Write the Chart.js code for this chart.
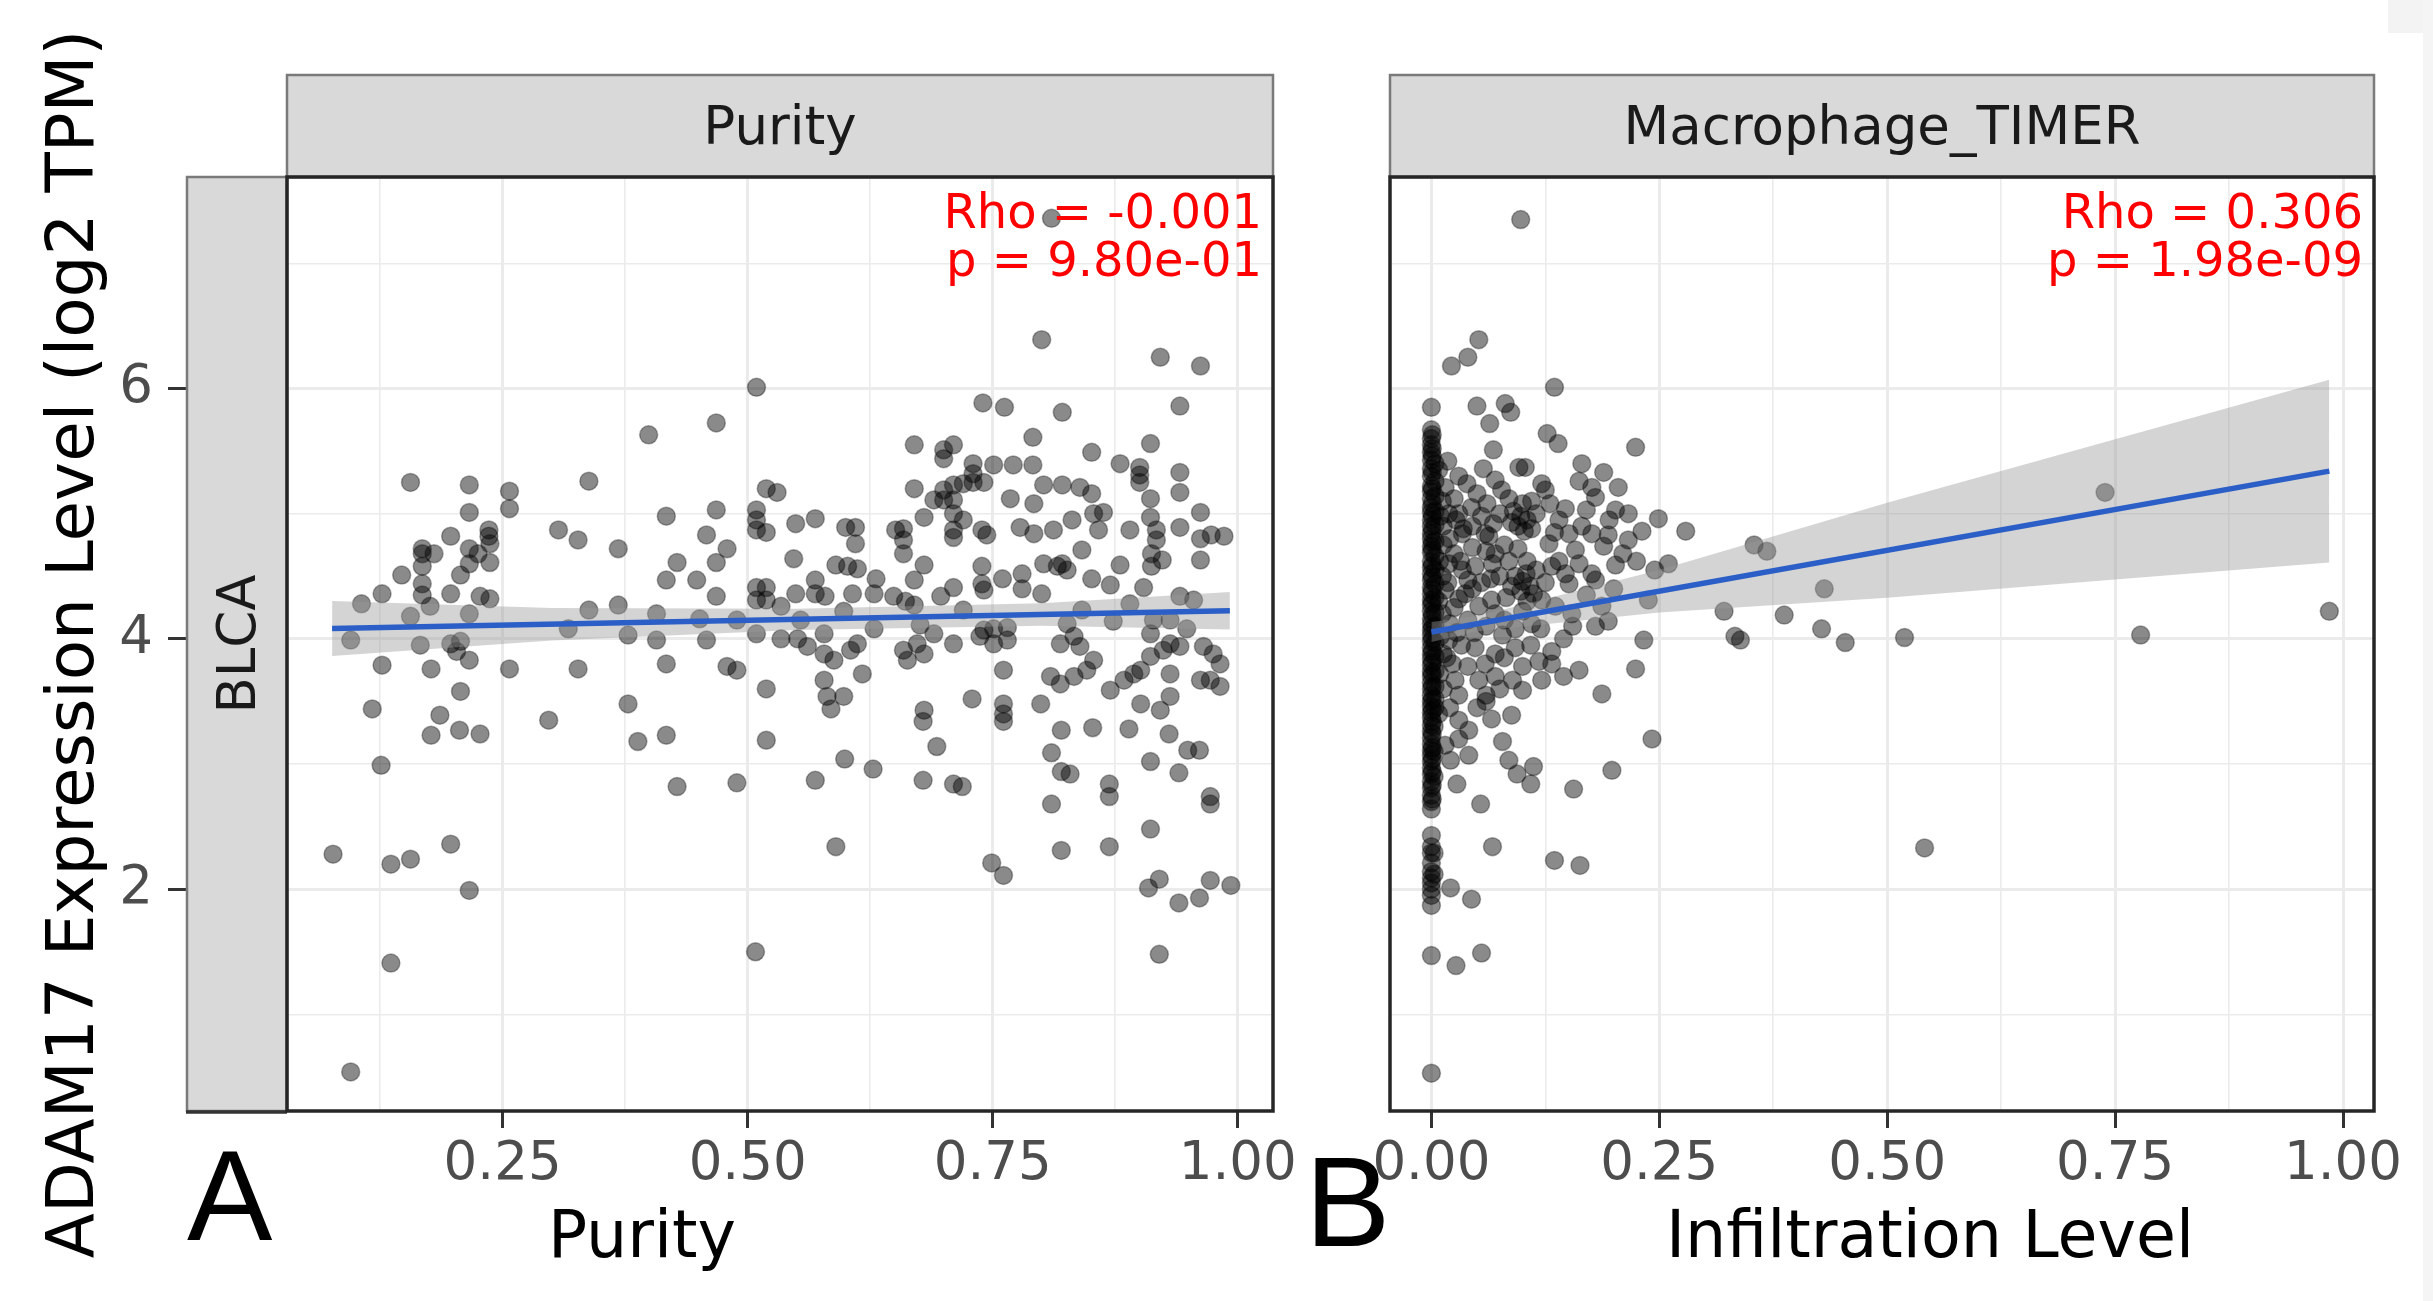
<!DOCTYPE html>
<html>
<head>
<meta charset="utf-8">
<script src="https://cdn.jsdelivr.net/npm/chart.js"></script>
<style>
html,body{margin:0;padding:0;background:#ffffff;width:2433px;height:1301px;overflow:hidden}
canvas{position:absolute;left:0;top:0}
#edgeTop{position:absolute;left:2388px;top:0;width:45px;height:33px;background:#f3f3f3}
#edgeRight{position:absolute;left:2423px;top:0;width:10px;height:1301px;background:#f5f5f5}
</style>
</head>
<body>
<div id="edgeTop"></div><div id="edgeRight"></div>
<canvas id="chartA" width="2433" height="1301"></canvas>
<canvas id="chartB" width="2433" height="1301"></canvas>
<script>
// ---------------- data: panel A (Purity) ----------------
const purityX = [
0.509,0.468,0.399,0.156,0.216,0.338,0.257,0.257,0.216,0.417,
0.468,0.509,0.519,0.530,0.509,0.509,0.519,0.197,0.236,0.236,
0.307,0.327,0.368,0.168,0.168,0.180,0.216,0.225,0.237,0.237,
0.216,0.207,0.147,0.168,0.168,0.428,0.458,0.479,0.468,0.417,
0.448,0.127,0.197,0.168,0.106,0.176,0.156,0.216,0.227,0.237,
0.338,0.368,0.407,0.468,0.509,0.519,0.509,0.519,0.451,0.489,
0.317,0.095,0.166,0.197,0.207,0.203,0.216,0.378,0.407,0.458,
0.509,0.127,0.177,0.257,0.327,0.417,0.479,0.489,0.207,0.519,
0.378,0.117,0.186,0.297,
0.177,0.206,0.227,0.126,0.388,0.417,0.428,0.489,0.519,0.077,
0.136,0.156,0.197,0.216,0.136,0.095,0.508,
0.800,0.921,0.962,0.740,0.762,0.821,0.941,0.791,0.670,0.700,
0.710,0.700,0.911,0.851,0.730,0.730,0.751,0.771,0.791,0.880,
0.900,0.900,0.900,0.941,0.941,0.670,0.690,0.700,0.710,0.720,
0.730,0.741,0.700,0.710,0.680,0.710,0.720,0.768,0.792,0.802,
0.821,0.839,0.851,0.911,0.962,0.853,0.863,0.911,0.549,0.569,
0.600,0.610,0.610,0.651,0.659,0.659,0.659,0.710,0.710,0.739,
0.744,0.778,0.792,0.812,0.831,0.858,0.890,0.917,0.917,0.941,
0.962,0.973,0.986,0.962,0.547,0.590,0.602,0.612,0.631,0.680,
0.670,0.739,0.739,0.760,0.780,0.780,0.800,0.802,0.816,0.826,
0.821,0.841,0.851,0.870,0.880,0.912,0.912,0.923,0.904,0.549,
0.569,0.569,0.579,0.607,0.629,0.649,0.661,0.670,0.697,0.710,
0.720,0.741,0.841,0.890,0.941,0.955,0.534,0.554,0.598,0.629,
0.578,0.676,0.690,0.710,0.741,0.751,0.765,0.826,0.833,0.839,
0.819,0.873,0.914,0.931,0.948,0.911,0.534,0.551,0.561,0.578,
0.588,0.605,0.612,0.617,0.578,0.581,0.598,0.585,0.659,0.663,
0.673,0.680,0.737,0.751,0.765,0.761,0.809,0.819,0.833,0.846,
0.853,0.911,0.924,0.931,0.870,0.884,0.894,0.901,0.931,0.941,
0.965,0.975,0.982,0.962,0.972,0.982,0.729,0.799,0.680,0.761,
0.761,0.921,0.931,0.901,
0.590,0.569,0.599,0.628,0.679,0.693,0.710,0.719,0.749,0.761,
0.810,0.820,0.810,0.820,0.829,0.820,0.852,0.869,0.869,0.869,
0.889,0.911,0.909,0.920,0.920,0.911,0.930,0.940,0.940,0.961,
0.972,0.993,0.949,0.961,0.972,0.972,0.679,0.761,0.810
];
const purityY = [
6.01,5.725,5.63,5.25,5.23,5.26,5.18,5.04,5.01,4.98,
5.03,5.03,5.20,5.17,4.95,4.87,4.85,4.82,4.87,4.82,
4.87,4.79,4.72,4.72,4.68,4.68,4.72,4.68,4.76,4.61,
4.60,4.51,4.51,4.58,4.44,4.61,4.83,4.72,4.61,4.47,
4.47,4.36,4.36,4.35,4.28,4.26,4.18,4.20,4.34,4.32,
4.23,4.27,4.20,4.34,4.41,4.41,4.31,4.31,4.16,4.15,
4.08,3.99,3.95,3.96,3.98,3.90,3.83,4.03,3.99,3.99,
4.04,3.79,3.76,3.76,3.76,3.80,3.78,3.75,3.58,3.60,
3.48,3.44,3.39,3.35,
3.23,3.27,3.24,2.99,3.18,3.23,2.82,2.85,3.19,2.28,
2.20,2.24,2.36,1.99,1.41,0.54,1.50,
6.39,6.25,6.18,5.885,5.85,5.81,5.86,5.61,5.55,5.51,
5.55,5.44,5.56,5.49,5.40,5.32,5.39,5.39,5.39,5.40,
5.37,5.31,5.25,5.33,5.17,5.20,5.11,5.19,5.23,5.24,
5.25,5.25,5.11,5.11,4.97,5.00,4.95,5.12,5.08,5.23,
5.23,5.21,5.16,5.12,5.01,5.00,5.01,4.97,4.92,4.96,
4.89,4.89,4.76,4.87,4.88,4.79,4.68,4.87,4.81,4.87,
4.83,4.89,4.84,4.87,4.95,4.87,4.87,4.87,4.79,4.89,
4.80,4.83,4.82,4.63,4.64,4.59,4.58,4.56,4.48,4.59,
4.47,4.58,4.44,4.48,4.52,4.40,4.36,4.60,4.58,4.55,
4.60,4.71,4.48,4.43,4.59,4.68,4.58,4.63,4.41,4.36,
4.47,4.36,4.34,4.36,4.36,4.34,4.30,4.27,4.34,4.41,
4.23,4.39,4.23,4.28,4.34,4.31,4.26,4.15,4.22,4.08,
4.04,4.11,4.04,3.96,4.07,4.08,4.09,4.12,4.02,3.94,
3.96,4.14,4.15,4.15,4.08,4.04,4.00,4.00,3.94,3.88,
3.83,3.91,3.96,3.72,3.67,3.54,3.54,3.44,3.91,3.83,
3.96,3.88,4.02,3.96,3.99,3.75,3.70,3.64,3.70,3.75,
3.83,3.86,3.91,3.96,3.59,3.67,3.72,3.75,3.72,3.94,
3.94,3.88,3.80,3.67,3.67,3.62,3.52,3.48,3.43,3.48,
3.40,3.43,3.54,3.48,
2.34,2.87,3.04,2.96,2.87,3.14,2.84,2.82,2.21,2.11,
2.68,3.27,3.09,2.94,2.92,2.31,3.29,2.34,2.84,2.74,
3.28,2.48,2.01,2.08,1.48,3.02,3.24,2.93,1.89,1.93,
2.07,2.03,3.11,3.11,2.74,2.68,3.34,3.34,7.36
];
const purityFitX = [0.076, 0.992];
const purityFitY = [4.083, 4.224];
const purityBandX = [0.076, 0.30, 0.55, 0.80, 0.992];
const purityBandHi = [4.303, 4.247, 4.241, 4.285, 4.374];
const purityBandLo = [3.863, 3.987, 4.071, 4.105, 4.074];

// ---------------- data: panel B (Macrophage_TIMER) ----------------
const macroX = [
0,0,0,0,0,0,0,0,0,0,
0,0,0,0,0,0,0,0,0,0,
0,0,0,0,0,0,0,0,0,0,
0,0,0,0,0,0,0,0,0,0,
0,0,0,0,0,0,0,0,0,0,
0,0,0,0,0,0,0,0,0,0,
0,0,0,0,0,0,0,0,0,0,
0,0,
0.004,0.004,0.004,0.004,0.004,0.004,0.004,0.004,0.004,0.004,
0.004,0.004,0.004,0.004,0.004,0.004,0.004,0.004,
0.003,0.003,0.003,0.003,0.003,
0.001,0.001,0.001,0.001,0.001,0.001,0.001,0.001,0.001,0.001,
0.001,0.001,0.001,0.001,0.001,0.001,0.001,0.001,0.001,0.001,
0.001,0.001,0.001,0.001,0.001,0.001,0.001,0.001,0.001,0.001,
0.052,0.040,0.022,0.135,0.050,0.081,0.087,0.064,0.127,0.139,
0.224,0.068,0.057,0.070,0.077,0.096,0.103,0.121,0.125,0.165,
0.162,0.189,0.176,0.180,0.205,0.147,0.202,0.216,0.249,0.279,
0.231,0.216,0.194,0.015,0.039,0.050,0.019,0.055,0.034,0.059,
0.090,0.098,0.105,0.095,0.110,0.102,0.088,0.115,0.129,0.151,
0.165,0.176,0.158,0.189,0.202,0.260,0.354,0.019,0.034,0.048,
0.067,0.070,0.092,0.100,0.108,0.098,0.088,0.112,0.104,0.132,
0.147,0.162,0.176,0.180,0.151,0.015,0.037,0.052,0.066,0.070,
0.121,0.136,0.154,0.187,0.238,0.321,0.333,0.339,0.180,0.194,
0.233,0.145,0.224,0.162,0.132,0.132,0.121,0.187,0.078,0.092,
0.109,0.070,0.059,0.048,0.052,0.089,0.100,0.019,0.023,0.026,
0.012,0.025,0.030,0.044,0.061,0.075,0.013,0.027,0.045,0.060,
0.080,0.013,0.025,0.040,0.055,0.075,0.082,0.012,0.025,0.040,
0.060,0.080,0.012,0.028,0.040,0.070,0.013,0.030,0.060,0.080,
0.110,0.100,0.120,0.013,0.035,0.068,0.085,0.110,0.130,0.140,
0.135,0.170,0.195,0.210,0.225,0.245,0.155,0.170,0.200,0.118,
0.145,0.100,0.075,0.242,0.198,0.156,0.112,0.109,0.094,0.085,
0.078,0.066,0.088,0.041,0.041,0.021,0.028,0.054,0.067,0.135,
0.163,0.021,0.044,0.027,0.055,0.020,0.030,0.050,0.015,0.030,
0.060,0.098,0.368,0.431,0.387,0.428,0.454,0.519,0.739,0.778,
0.985,0.541,
0.008,0.010,0.009,0.008,0.010,0.009,0.008,0.018,0.020,0.018,
0.020,0.017,0.030,0.032,0.030,0.033,0.045,0.045,0.047,0.065,
0.063,0.085,0.095,0.105,0.115,0.100,0.092,0.105,0.125,0.140
];
const macroY = [
5.85,5.67,5.60,5.55,5.49,5.43,5.36,5.30,5.22,5.18,
5.12,5.05,5.01,4.95,4.90,4.84,4.80,4.74,4.69,4.62,
4.57,4.52,4.47,4.41,4.36,4.31,4.27,4.22,4.16,4.12,
4.07,4.03,3.98,3.93,3.88,3.84,3.79,3.74,3.70,3.65,
3.60,3.55,3.50,3.46,3.41,3.37,3.31,3.26,3.21,3.16,
3.11,3.07,3.02,2.97,2.92,2.86,2.81,2.75,2.70,2.64,
2.43,2.34,2.29,2.21,2.14,2.09,2.05,2.00,1.95,1.87,
1.47,0.53,
5.40,5.26,5.14,5.02,4.91,4.78,4.66,4.55,4.44,4.33,
4.21,4.10,3.97,3.86,3.74,3.62,3.52,3.45,
3.30,3.10,2.90,2.29,2.12,
5.63,5.52,5.46,5.33,5.20,5.08,4.98,4.87,4.77,4.71,
4.59,4.49,4.39,4.29,4.19,4.09,4.00,3.90,3.81,3.72,
3.62,3.52,3.43,3.34,3.24,3.13,3.04,2.94,2.83,2.72,
6.39,6.25,6.18,6.01,5.86,5.88,5.81,5.72,5.64,5.56,
5.53,5.51,5.36,5.27,5.19,5.37,5.37,5.24,5.19,5.40,
5.26,5.33,5.21,5.13,5.21,5.04,5.03,5.00,4.96,4.86,
4.86,4.79,4.83,5.21,5.24,5.16,5.00,4.98,4.84,4.84,
5.02,4.98,4.95,4.90,4.88,4.86,4.93,5.00,4.76,4.84,
4.90,4.84,4.71,4.74,4.59,4.60,4.75,4.60,4.55,4.58,
4.60,4.68,4.50,4.46,4.42,4.38,4.42,4.36,4.52,4.58,
4.52,4.60,4.52,4.47,4.44,4.39,4.36,4.26,4.31,4.20,
4.31,4.26,4.20,4.26,4.31,4.22,4.02,3.99,4.10,4.14,
3.99,4.00,3.76,3.75,3.90,3.80,3.67,3.56,4.03,3.93,
3.95,3.88,3.80,3.93,3.67,3.67,3.59,3.99,3.80,3.67,
5.10,5.12,5.30,5.05,5.08,5.00,4.90,4.95,4.73,4.70,
4.75,4.75,4.68,4.47,4.45,4.50,4.33,4.50,4.25,4.15,
4.10,4.15,4.20,4.05,3.78,3.70,3.88,3.55,3.55,3.85,
4.12,4.22,4.08,3.60,4.88,4.92,5.12,5.10,5.08,4.95,
4.85,5.03,4.95,4.68,4.62,4.55,4.10,4.35,4.40,3.82,
3.70,3.78,3.60,3.20,2.95,2.80,2.98,2.84,2.92,3.03,
3.18,3.36,3.39,3.27,3.07,3.03,2.84,2.68,2.34,2.23,
2.19,2.01,1.92,1.39,1.49,3.45,3.35,3.45,3.15,3.20,
3.50,7.35,4.70,4.40,4.19,4.08,3.97,4.01,5.17,4.03,
4.22,2.33,
5.35,4.98,4.62,4.30,4.02,3.72,3.40,5.42,4.80,4.45,
4.12,3.85,5.00,4.62,4.32,3.95,4.90,4.40,4.05,4.48,
4.82,4.62,4.72,4.62,4.55,5.08,4.08,4.30,4.45,4.62
];
const macroFitX = [0, 0.985];
const macroFitY = [4.055, 5.340];
const macroBandX = [0, 0.05, 0.25, 0.50, 0.75, 0.985];
const macroBandHi = [4.135, 4.180, 4.551, 5.088, 5.594, 6.070];
const macroBandLo = [3.975, 4.060, 4.211, 4.328, 4.474, 4.610];

// ---------------- ticks / labels ----------------
const yMajor = [2, 4, 6];
const yMajorLabels = ['2', '4', '6'];
const yMinor = [1, 3, 5, 7];
const xMajorA = [0.25, 0.5, 0.75, 1.0];
const xMajorLabelsA = ['0.25', '0.50', '0.75', '1.00'];
const xMajorB = [0, 0.25, 0.5, 0.75, 1.0];
const xMajorLabelsB = ['0.00', '0.25', '0.50', '0.75', '1.00'];
const xMinor = [0.125, 0.375, 0.625, 0.875];

const yTitle = 'ADAM17 Expression Level (log2 TPM)';
const stripRow = 'BLCA';

// ---------------- styling ----------------
const FONT = "'DejaVu Sans', 'Liberation Sans', sans-serif";
const W = 2433, H = 1301;
const PANEL_TOP = 177, PANEL_BOTTOM = 1111, STRIP_TOP = 75;
const PANEL_A = {left: 287, right: 1273};
const PANEL_B = {left: 1390, right: 2374};
const POINT_FILL = 'rgba(0,0,0,0.46)';
const POINT_EDGE = 'rgba(0,0,0,0.32)';
const FIT_COLOR = '#2B5FC7';
const BAND_COLOR = 'rgba(153,153,153,0.42)';

const pairs = (xs, ys) => xs.map((x, i) => ({x: x, y: ys[i]}));

function makeDatasets(px, py, fx, fy, bx, bhi, blo) {
  return [
    {label: 'fit', data: pairs(fx, fy), showLine: true, borderColor: FIT_COLOR, borderWidth: 5.5,
     pointRadius: 0, fill: false, order: 1},
    {label: 'ci-upper', data: pairs(bx, bhi), showLine: true, borderColor: 'rgba(0,0,0,0)', borderWidth: 0.01,
     pointRadius: 0, fill: '+1', backgroundColor: BAND_COLOR, order: 2},
    {label: 'ci-lower', data: pairs(bx, blo), showLine: true, borderColor: 'rgba(0,0,0,0)', borderWidth: 0.01,
     pointRadius: 0, fill: false, order: 2},
    {label: 'samples', data: pairs(px, py), showLine: false, pointRadius: 9, pointBorderWidth: 1.5,
     backgroundColor: POINT_FILL, borderColor: POINT_EDGE, pointBackgroundColor: POINT_FILL,
     pointBorderColor: POINT_EDGE, order: 3}
  ];
}

function xScale(min, max, majors, labels) {
  const all = majors.concat(xMinor).sort((a, b) => a - b);
  const isMajor = c => c.tick && majors.indexOf(c.tick.value) >= 0;
  return {
    type: 'linear', position: 'bottom', min: min, max: max, bounds: 'data',
    afterBuildTicks: s => { s.ticks = all.map(v => ({value: v})); },
    afterFit: s => { s.height = H - PANEL_BOTTOM; },
    ticks: {
      autoSkip: false, maxRotation: 0, minRotation: 0, padding: 5, color: '#4D4D4D',
      font: {family: FONT, size: 53},
      callback: v => { const i = majors.indexOf(v); return i < 0 ? '' : labels[i]; }
    },
    grid: {
      color: '#EBEBEB',
      lineWidth: c => isMajor(c) ? 3 : 1.6,
      tickColor: c => isMajor(c) ? '#333333' : 'rgba(0,0,0,0)',
      tickLength: 17, tickWidth: 3, drawTicks: true
    },
    border: {display: false}
  };
}

function yScale(showLabels, width) {
  const all = yMajor.concat(yMinor).sort((a, b) => a - b);
  const isMajor = c => c.tick && yMajor.indexOf(c.tick.value) >= 0;
  const cfg = {
    type: 'linear', position: 'left', min: 0.228, max: 7.69, bounds: 'data',
    afterBuildTicks: s => { s.ticks = all.map(v => ({value: v})); },
    afterFit: s => { s.width = width; },
    ticks: {
      display: showLabels, autoSkip: false, padding: 15, color: '#4D4D4D',
      font: {family: FONT, size: 53},
      callback: v => { const i = yMajor.indexOf(v); return i < 0 ? '' : yMajorLabels[i]; }
    },
    grid: {
      color: '#EBEBEB',
      lineWidth: c => isMajor(c) ? 3 : 1.6,
      tickColor: c => isMajor(c) ? '#333333' : 'rgba(0,0,0,0)',
      tickLength: 119, tickWidth: 3, drawTicks: showLabels
    },
    border: {display: false}
  };
  if (showLabels) {
    cfg.title = {display: true, text: yTitle, color: '#000000',
                 font: {family: FONT, size: 66}, padding: {top: 36, bottom: 0}};
  }
  return cfg;
}

const decor = {
  id: 'decor',
  afterDraw(chart, args, o) {
    const ctx = chart.ctx, a = chart.chartArea;
    ctx.save();
    // top strip
    ctx.fillStyle = '#D9D9D9';
    ctx.fillRect(a.left, STRIP_TOP, a.right - a.left, a.top - STRIP_TOP);
    ctx.strokeStyle = '#7A7A7A'; ctx.lineWidth = 2.5;
    ctx.strokeRect(a.left, STRIP_TOP, a.right - a.left, a.top - STRIP_TOP);
    ctx.fillStyle = '#1A1A1A';
    ctx.font = '53px ' + FONT; ctx.textAlign = 'center'; ctx.textBaseline = 'alphabetic';
    ctx.fillText(o.strip, (a.left + a.right) / 2, 144);
    // side strip (row label)
    if (o.sideStrip) {
      const sl = 187;
      ctx.fillStyle = '#D9D9D9';
      ctx.fillRect(sl, a.top, a.left - sl, a.bottom - a.top);
      ctx.strokeStyle = '#7A7A7A'; ctx.lineWidth = 2.5;
      ctx.strokeRect(sl, a.top, a.left - sl, a.bottom - a.top);
      ctx.save();
      ctx.translate(255, (a.top + a.bottom) / 2);
      ctx.rotate(-Math.PI / 2);
      ctx.fillStyle = '#1A1A1A'; ctx.font = '53px ' + FONT;
      ctx.textAlign = 'center'; ctx.textBaseline = 'alphabetic';
      ctx.fillText(o.sideStrip, 0, 0);
      ctx.restore();
      ctx.strokeStyle = '#333333'; ctx.lineWidth = 3.5;
      ctx.beginPath(); ctx.moveTo(sl - 1, a.bottom + 1); ctx.lineTo(a.left, a.bottom + 1); ctx.stroke();
    }
    // panel border
    ctx.strokeStyle = '#262626'; ctx.lineWidth = 3.5;
    ctx.strokeRect(a.left, a.top, a.right - a.left, a.bottom - a.top);
    // correlation annotation
    ctx.fillStyle = '#FF0000'; ctx.font = '48px ' + FONT;
    ctx.textAlign = 'right'; ctx.textBaseline = 'alphabetic';
    ctx.fillText(o.rho, o.annX, 228);
    ctx.fillText(o.p, o.annX, 276);
    // x axis title
    ctx.fillStyle = '#000000'; ctx.font = '65px ' + FONT; ctx.textAlign = 'center';
    ctx.fillText(o.xTitle, o.xTitleX, 1257);
    // panel letter
    ctx.font = "128px 'Liberation Sans', Arial, sans-serif"; ctx.textAlign = 'left';
    ctx.fillText(o.letter, o.letterX, o.letterY);
    ctx.restore();
  }
};

function buildChart(id, panel, datasets, xs, ys, deco) {
  return new Chart(document.getElementById(id), {
    type: 'scatter',
    data: {datasets: datasets},
    plugins: [decor],
    options: {
      responsive: false, animation: false, devicePixelRatio: 1, events: [],
      layout: {padding: {left: 0, top: PANEL_TOP, right: W - panel.right, bottom: 0}},
      plugins: {legend: {display: false}, tooltip: {enabled: false}, title: {display: false}, decor: deco},
      scales: {x: xs, y: ys}
    }
  });
}

buildChart('chartA', PANEL_A,
  makeDatasets(purityX, purityY, purityFitX, purityFitY, purityBandX, purityBandHi, purityBandLo),
  xScale(0.030, 1.036, xMajorA, xMajorLabelsA),
  yScale(true, PANEL_A.left),
  {strip: 'Purity', sideStrip: stripRow, rho: 'Rho = -0.001', p: 'p = 9.80e-01', annX: 1262,
   xTitle: 'Purity', xTitleX: 642, letter: 'A', letterX: 187, letterY: 1240});

buildChart('chartB', PANEL_B,
  makeDatasets(macroX, macroY, macroFitX, macroFitY, macroBandX, macroBandHi, macroBandLo),
  xScale(-0.0454, 1.034, xMajorB, xMajorLabelsB),
  yScale(false, PANEL_B.left),
  {strip: 'Macrophage_TIMER', sideStrip: null, rho: 'Rho = 0.306', p: 'p = 1.98e-09', annX: 2363,
   xTitle: 'Infiltration Level', xTitleX: 1930, letter: 'B', letterX: 1305, letterY: 1246});
</script>
</body>
</html>
